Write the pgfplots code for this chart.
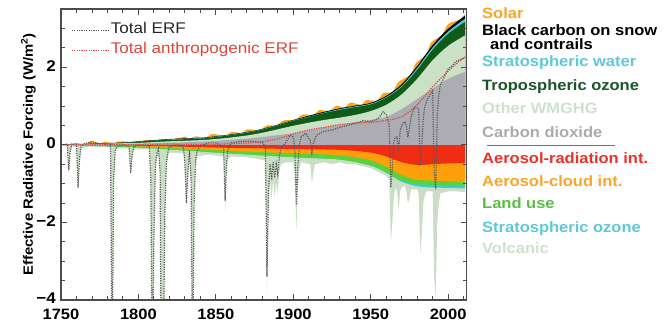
\documentclass[border=0pt]{standalone}
\usepackage{fontspec}
\setmainfont{Liberation Sans}[FakeStretch=1.1]
\usepackage{pgfplots}
\pgfplotsset{compat=1.18}
\usepackage{pgfplotstable}

\definecolor{cco2}{RGB}{172,172,178}
\definecolor{cwm}{RGB}{202,225,198}
\definecolor{co3}{RGB}{14,92,24}
\definecolor{ch2o}{RGB}{80,200,215}
\definecolor{csol}{RGB}{250,165,30}
\definecolor{cari}{RGB}{240,45,20}
\definecolor{caci}{RGB}{255,160,10}
\definecolor{clu}{RGB}{90,210,60}
\definecolor{cso3}{RGB}{60,200,215}
\definecolor{cvolc}{RGB}{202,222,198}
\definecolor{cant}{RGB}{222,70,60}
\definecolor{ttro}{RGB}{25,85,40}
\definecolor{twm}{RGB}{205,225,205}
\definecolor{tco2}{RGB}{170,170,176}
\definecolor{tari}{RGB}{232,50,40}
\definecolor{tsol}{RGB}{248,165,40}
\definecolor{tlu}{RGB}{90,190,70}
\definecolor{tcy}{RGB}{95,200,215}

\pgfplotstableread{
year co2 wm o3 h2o bc
1750 0.00 0.00 0.00 0.00 0.00
1770 0.01 0.02 0.02 0.02 0.03
1790 0.02 0.04 0.05 0.05 0.06
1800 0.03 0.05 0.08 0.08 0.09
1810 0.04 0.07 0.11 0.11 0.12
1820 0.05 0.09 0.13 0.14 0.15
1840 0.08 0.12 0.16 0.17 0.18
1850 0.10 0.15 0.20 0.21 0.22
1860 0.13 0.19 0.25 0.26 0.27
1870 0.16 0.24 0.31 0.32 0.33
1880 0.20 0.31 0.39 0.40 0.41
1890 0.25 0.40 0.50 0.51 0.52
1900 0.30 0.49 0.62 0.63 0.64
1910 0.37 0.57 0.72 0.73 0.75
1920 0.45 0.64 0.82 0.83 0.85
1930 0.52 0.70 0.90 0.92 0.94
1940 0.58 0.77 0.97 0.99 1.01
1950 0.64 0.87 1.04 1.06 1.08
1960 0.72 1.03 1.21 1.23 1.26
1970 0.92 1.30 1.49 1.52 1.56
1980 1.18 1.70 1.93 1.98 2.03
1990 1.45 2.18 2.45 2.51 2.57
2000 1.70 2.55 2.86 2.92 2.99
2011 1.88 2.82 3.17 3.25 3.33
}\pos

\pgfplotstableread{
year sol
1750 0.00
1761 0.04
1766 0.01
1769 0.10
1775 0.03
1778 0.08
1784 0.04
1788 0.09
1798 0.07
1805 0.12
1810 0.11
1816 0.13
1823 0.15
1830 0.21
1833 0.16
1837 0.22
1843 0.18
1848 0.28
1856 0.23
1860 0.33
1867 0.30
1870 0.40
1878 0.38
1883 0.50
1889 0.50
1894 0.63
1901 0.64
1906 0.78
1913 0.77
1917 0.90
1923 0.87
1928 1.01
1933 0.96
1937 1.09
1944 1.03
1947 1.15
1954 1.14
1958 1.33
1964 1.36
1968 1.62
1976 1.82
1979 2.10
1986 2.34
1989 2.64
1996 2.83
2000 3.11
2008 3.24
2011 3.38
}\sol

\pgfplotstableread{
year ari aci lu so3
1750 0.00 0.00 0.00 0.00
1800 -0.02 -0.04 -0.07 -0.07
1850 -0.07 -0.14 -0.20 -0.20
1900 -0.11 -0.22 -0.32 -0.32
1930 -0.13 -0.27 -0.38 -0.38
1950 -0.20 -0.40 -0.53 -0.54
1960 -0.30 -0.56 -0.71 -0.72
1970 -0.45 -0.78 -0.92 -0.95
1980 -0.52 -0.90 -1.02 -1.07
1990 -0.50 -0.92 -1.03 -1.10
2000 -0.48 -0.94 -1.04 -1.11
2011 -0.47 -0.96 -1.05 -1.12
}\neg

\pgfplotstableread{
year v
1750 -0.02
1754 -0.04
1755 -0.72
1756 -0.2
1757 -0.05
1760 -0.05
1761 -1.12
1762 -0.4
1763 -0.1
1766 -0.05
1782 -0.06
1783 -6
1784 -1.0
1785 -0.2
1786 -0.1
1794 -0.1
1795 -0.8
1796 -0.3
1797 -0.12
1807 -0.12
1808 -1.0
1809 -6
1810 -2.5
1811 -0.6
1812 -0.3
1813 -0.25
1814 -0.8
1815 -8
1816 -6
1817 -2.0
1818 -0.6
1819 -0.3
1820 -0.2
1829 -0.22
1830 -0.6
1831 -1.6
1832 -0.8
1833 -0.35
1834 -1.0
1835 -6
1836 -1.5
1837 -0.5
1838 -0.3
1845 -0.25
1855 -0.3
1856 -1.75
1857 -0.65
1858 -0.35
1860 -0.3
1870 -0.32
1875 -0.35
1882 -0.4
1883 -3.85
1884 -1.6
1885 -0.9
1886 -1.4
1887 -0.9
1888 -1.35
1889 -0.95
1890 -1.25
1891 -0.7
1892 -0.5
1895 -0.45
1900 -0.45
1901 -0.8
1902 -2.2
1903 -1.1
1904 -0.6
1905 -0.45
1911 -0.5
1912 -1.0
1913 -0.7
1914 -0.5
1920 -0.45
1925 -0.5
1930 -0.45
1935 -0.5
1940 -0.5
1945 -0.55
1950 -0.6
1955 -0.7
1960 -0.8
1962 -0.9
1963 -2.5
1964 -2.0
1965 -1.3
1966 -1.1
1967 -1.2
1968 -1.7
1969 -1.2
1970 -1.1
1972 -1.05
1973 -1.2
1974 -1.5
1975 -1.4
1976 -1.15
1980 -1.15
1981 -1.25
1982 -2.8
1983 -2.3
1984 -1.5
1985 -1.3
1986 -1.2
1990 -1.2
1991 -3.4
1992 -3.9
1993 -2.0
1994 -1.5
1995 -1.25
2000 -1.2
2005 -1.2
2011 -1.22
}\volc

\pgfplotstableread{
year t
1750 0.0
1754 0.02
1755 -0.65
1756 -0.15
1757 0.02
1760 0.02
1761 -1.1
1762 -0.35
1763 -0.05
1765 0.03
1770 0.08
1775 0.03
1782 0.0
1783 -6
1784 -0.9
1785 -0.15
1786 -0.05
1790 0.0
1794 -0.04
1795 -0.73
1796 -0.25
1797 -0.05
1800 0.0
1807 -0.03
1808 -0.9
1809 -6
1810 -2.4
1811 -0.5
1812 -0.2
1813 -0.1
1814 -0.7
1815 -8
1816 -6
1817 -1.9
1818 -0.5
1819 -0.2
1820 -0.05
1825 0.0
1829 -0.05
1830 -0.45
1831 -1.5
1832 -0.65
1833 -0.15
1834 -0.85
1835 -6
1836 -1.4
1837 -0.35
1838 -0.15
1840 -0.03
1845 0.05
1850 0.05
1855 -0.05
1856 -1.45
1857 -0.4
1858 -0.1
1860 0.05
1865 0.08
1870 0.1
1875 0.08
1880 0.06
1882 -0.05
1883 -3.4
1884 -1.2
1885 -0.5
1886 -0.9
1887 -0.45
1888 -0.85
1889 -0.5
1890 -0.75
1891 -0.3
1892 -0.1
1895 0.05
1898 0.25
1900 0.2
1901 -0.1
1902 -1.55
1903 -0.5
1904 0.0
1905 0.2
1908 0.3
1911 0.1
1912 -0.2
1913 0.05
1915 0.25
1920 0.35
1925 0.38
1930 0.45
1935 0.5
1940 0.55
1945 0.62
1950 0.6
1955 0.68
1958 0.85
1960 0.78
1962 0.5
1963 -1.1
1964 -0.6
1965 0.1
1966 0.2
1967 0.2
1968 -0.15
1969 0.35
1970 0.5
1972 0.6
1973 0.5
1974 0.2
1975 0.4
1976 0.7
1978 0.95
1980 0.95
1981 0.9
1982 -0.55
1983 0.0
1984 0.7
1985 1.0
1987 1.2
1990 1.4
1991 -0.7
1992 -1.15
1993 0.8
1994 1.3
1995 1.55
1997 1.7
2000 1.95
2003 2.05
2005 2.15
2008 2.2
2011 2.25
}\tot

\pgfplotstableread{
year a
1750 0.00
1780 0.00
1800 0.01
1820 0.02
1840 0.01
1850 0.01
1860 0.03
1870 0.05
1880 0.08
1890 0.15
1900 0.28
1905 0.34
1910 0.38
1915 0.42
1920 0.45
1925 0.49
1930 0.52
1935 0.54
1940 0.56
1945 0.57
1950 0.58
1955 0.60
1960 0.63
1965 0.66
1970 0.72
1975 0.85
1980 1.03
1985 1.25
1990 1.50
1995 1.70
2000 1.90
2005 2.08
2011 2.27
}\ant

\begin{document}
\begin{tikzpicture}[x=1pt,y=1pt]
\useasboundingbox (0,0) rectangle (670,324);
\begin{axis}[
  at={(61pt,24pt)}, anchor=south west, scale only axis,
  width=405.7pt, height=291pt,
  xmin=1750, xmax=2012, ymin=-4, ymax=3.5,
  xtick={1750,1800,1850,1900,1950,2000},
  xticklabels={1750,1800,1850,1900,1950,2000},
  minor xtick={1760,1770,...,2010},
  ytick={-4,-2,0,2}, yticklabels={−4,−2,0,2},
  minor ytick={-3.5,-3,...,3.5},
  tick align=inside,
  major tick length=6pt, minor tick length=4pt,
  every tick/.style={line width=0.9pt, color=black!70},
  axis line style={line width=1.2pt, color=black!70},
  tick label style={font=\fontsize{15.5}{18}\selectfont\bfseries},
  xticklabel style={font=\fontsize{15}{17}\selectfont\bfseries, inner sep=1pt, yshift=-7.5pt},
  yticklabel style={inner sep=1pt, xshift=-4pt, yshift=1.5pt},
  ylabel={Effective Radiative Forcing (W/m\textsuperscript{2})},
  ylabel style={font=\fontsize{13.5}{16}\selectfont\bfseries},
  ylabel shift=-4pt,
  axis on top,
  legend style={draw=none, fill=none, at={(rel axis cs:0,1)}, anchor=north west,
    xshift=10pt, yshift=-11pt, inner sep=0pt,
    font=\fontsize{15.5}{18}\selectfont,
    nodes={inner sep=1.5pt, text height=12pt, text depth=5pt}},
  legend cell align=left,
  legend image code/.code={\draw[#1] (0pt,0pt) -- (37pt,0pt);},
]
% negative side
\addplot[fill=cvolc, draw=none, forget plot] table[x=year,y=v] {\volc} \closedcycle;
\addplot[fill=cso3, draw=none, smooth, forget plot] table[x=year,y=so3] {\neg} \closedcycle;
\addplot[fill=clu, draw=none, smooth, forget plot] table[x=year,y=lu] {\neg} \closedcycle;
\addplot[fill=caci, draw=none, smooth, forget plot] table[x=year,y=aci] {\neg} \closedcycle;
\addplot[fill=cari, draw=none, smooth, forget plot] table[x=year,y=ari] {\neg} \closedcycle;
% positive side
\addplot[fill=csol, draw=none, smooth, forget plot] table[x=year,y=sol] {\sol} \closedcycle;
\addplot[fill=black, draw=none, smooth, forget plot] table[x=year,y=bc] {\pos} \closedcycle;
\addplot[fill=ch2o, draw=none, smooth, forget plot] table[x=year,y=h2o] {\pos} \closedcycle;
\addplot[fill=co3, draw=none, smooth, forget plot] table[x=year,y=o3] {\pos} \closedcycle;
\addplot[fill=cwm, draw=none, smooth, forget plot] table[x=year,y=wm] {\pos} \closedcycle;
\addplot[fill=cco2, draw=none, smooth, forget plot] table[x=year,y=co2] {\pos} \closedcycle;
% lines
\addplot[black!65, line width=1.2pt, dash pattern=on 1.2pt off 1.2pt] table[x=year,y=t] {\tot};
\addlegendentry{\textcolor{black!85}{Total ERF}}
\addplot[cant, line width=1.2pt, dash pattern=on 1.2pt off 1.2pt] table[x=year,y=a] {\ant};
\addlegendentry{\textcolor{cant}{Total anthropogenic ERF}}
\end{axis}
\begin{scope}[every node/.style={anchor=base west, inner sep=0pt, font=\fontsize{15}{18}\selectfont\bfseries}]
\node[text=tsol] at (482,305) {Solar};
\node[text=black] at (482,288) {Black carbon on snow};
\node[text=black] at (490,274) {and contrails};
\node[text=tcy] at (482,257.3) {Stratospheric water};
\node[text=ttro] at (482,233.5) {Tropospheric ozone};
\node[text=twm] at (482,210) {Other WMGHG};
\node[text=tco2] at (482,186.3) {Carbon dioxide};
\draw[black!55, line width=1pt] (487,178.3) -- (615,178.3);
\node[text=tari] at (482,160) {Aerosol-radiation int.};
\node[text=tsol] at (482,137.3) {Aerosol-cloud int.};
\node[text=tlu] at (482,115) {Land use};
\node[text=tcy] at (482,91.7) {Stratospheric ozone};
\node[text=twm] at (482,70) {Volcanic};
\end{scope}
\end{tikzpicture}
\end{document}
